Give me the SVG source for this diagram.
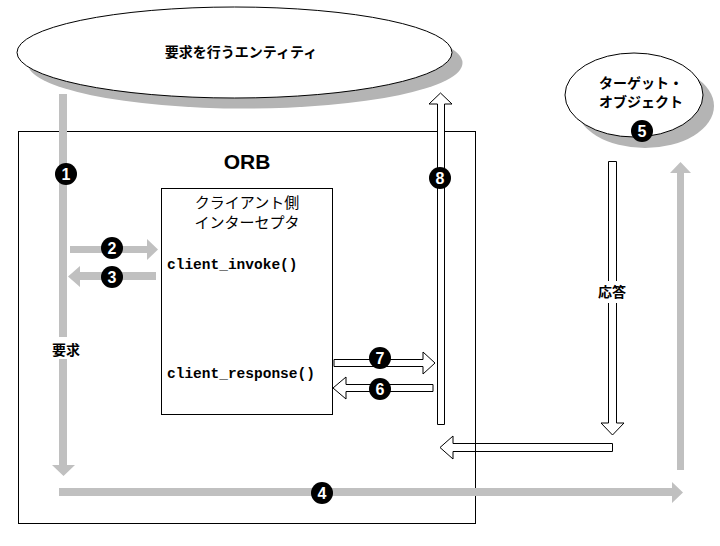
<svg xmlns="http://www.w3.org/2000/svg" width="720" height="546" viewBox="0 0 720 546">
<defs>
<style>
.shadow{fill:#b4b4b4;stroke:none}
.node{fill:#fff;stroke:#000;stroke-width:1}
.gray{fill:#c0c0c0;stroke:none}
.hollow{fill:#fff;stroke:#000;stroke-width:1}
.open{fill:none;stroke:#000;stroke-width:1}
.jp{font-family:"Noto Sans CJK JP","Liberation Sans",sans-serif;font-weight:bold;font-size:14px;text-anchor:middle}
.jpn{font-family:"Noto Sans CJK JP","Liberation Sans",sans-serif;font-weight:normal;font-size:15px;text-anchor:middle}
.code{font-family:"Liberation Mono",monospace;font-weight:bold;font-size:14.5px}
.badge circle{fill:#000}
.badge text{fill:#fff;font-family:"Liberation Sans",sans-serif;font-weight:bold;font-size:16px;text-anchor:middle}
</style>
</defs>
<rect width="720" height="546" fill="#fff"/>

<g id="requester">
<ellipse class="shadow" cx="245" cy="63" rx="217.5" ry="45.5"/>
<ellipse class="node" cx="234.5" cy="52.5" rx="217.5" ry="45.5"/>
<text class="jp" x="241" y="57">要求を行うエンティティ</text>
</g>

<g id="target">
<ellipse class="shadow" cx="645" cy="106" rx="69" ry="42"/>
<ellipse class="node" cx="634" cy="95" rx="69" ry="42"/>
<text class="jp" x="641" y="88">ターゲット・</text>
<text class="jp" x="641" y="107">オブジェクト</text>
</g>

<g id="orb">
<rect class="open" x="18.5" y="131.5" width="457" height="392"/>
<text x="247" y="169" font-family="Liberation Sans, sans-serif" font-weight="bold" font-size="21" text-anchor="middle">ORB</text>
</g>

<g id="interceptor">
<rect class="node" x="161.5" y="188.5" width="171" height="226"/>
<text class="jpn" x="247" y="208">クライアント側</text>
<text class="jpn" x="247" y="228">インターセプタ</text>
<text class="code" x="167" y="269">client_invoke()</text>
<text class="code" x="167" y="378">client_response()</text>
</g>

<g id="connectors">
<polygon class="gray" points="59,94 67,94 67,465 75,465 63.5,476 52,465 59,465"/>
<rect x="50" y="337" width="32" height="22" fill="#fff"/>
<text class="jp" x="66" y="355">要求</text>
<polygon class="gray" points="70,246 147,246 147,239 158,249.5 147,260 147,253 70,253"/>
<polygon class="gray" points="156,272 80,272 80,266 68,276.5 80,287 80,280 156,280"/>
<polygon class="gray" points="59,488 672,488 672,482 683,492.5 672,503 672,496 59,496"/>
<polygon class="gray" points="677,470 677,173 670,173 680.5,162 691,173 684,173 684,470"/>
<polygon class="hollow" points="437.5,424.5 437.5,104 429,104 440.5,93 452,104 444.5,104 444.5,424.5"/>
<polygon class="hollow" points="608.5,161.5 616.5,161.5 616.5,423 624,423 612.5,435 601,423 608.5,423"/>
<rect x="597" y="281" width="31" height="22" fill="#fff"/>
<text class="jp" x="612" y="297">応答</text>
<polygon class="open" points="612.5,443.5 453,443.5 453,436 440,447.5 453,459 453,451.5 612.5,451.5"/>
<polygon class="hollow" points="334,359.5 423,359.5 423,352 435,363 423,374 423,366.5 334,366.5"/>
<polygon class="hollow" points="433,384.5 346,384.5 346,377 333,388 346,399 346,391.5 433,391.5"/>
</g>

<g id="badges">
<g class="badge"><circle cx="66" cy="174" r="11"/><text x="66" y="180">1</text></g>
<g class="badge"><circle cx="112" cy="248" r="11"/><text x="112" y="254">2</text></g>
<g class="badge"><circle cx="112" cy="277" r="11"/><text x="112" y="283">3</text></g>
<g class="badge"><circle cx="322" cy="493" r="11"/><text x="322" y="499">4</text></g>
<g class="badge"><circle cx="642" cy="131" r="11"/><text x="642" y="137">5</text></g>
<g class="badge"><circle cx="380" cy="389" r="11"/><text x="380" y="395">6</text></g>
<g class="badge"><circle cx="380" cy="358" r="11"/><text x="380" y="364">7</text></g>
<g class="badge"><circle cx="440" cy="178" r="11"/><text x="440" y="184">8</text></g>
</g>
</svg>
